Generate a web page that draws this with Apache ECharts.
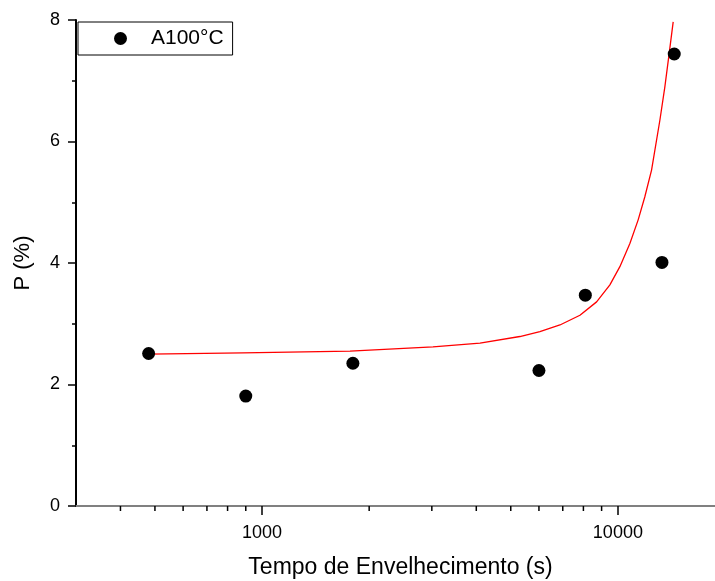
<!DOCTYPE html>
<html>
<head>
<meta charset="utf-8">
<script src="https://cdn.jsdelivr.net/npm/echarts@6/dist/echarts.min.js"></script>
<style>
html,body{margin:0;padding:0;background:#fff;}
#chart{width:715px;height:581px;}
</style>
</head>
<body>
<div id="chart"></div>
<script>
// Measured points
const timeS = [480, 900, 1800, 6000, 8100, 13300, 14400];
const pPercent = [2.51, 1.81, 2.35, 2.23, 3.47, 4.01, 7.44];
// Fitted curve
const fitX = [480, 884, 1767, 3022, 4097, 5303, 6037, 6873, 7823, 8713, 9496, 10130, 10807, 11402, 11906, 12434, 13122, 13552, 13937, 14303];
const fitY = [2.50, 2.52, 2.55, 2.62, 2.68, 2.79, 2.87, 2.98, 3.14, 3.36, 3.64, 3.94, 4.32, 4.71, 5.09, 5.53, 6.35, 6.90, 7.45, 7.97];
// Axis ticks
const xMajorTicks = [1000, 10000];
const xMinorTicks = [400, 500, 600, 700, 800, 900, 2000, 3000, 4000, 5000, 6000, 7000, 8000, 9000, 20000];
const seriesName = 'A100°C';
const xTitle = 'Tempo de Envelhecimento (s)';
const yTitle = 'P (%)';

const FONT = "'Liberation Sans', Arial, sans-serif";
const chart = echarts.init(document.getElementById('chart'), null, {renderer: 'canvas'});

chart.setOption({
  animation: false,
  backgroundColor: '#ffffff',
  grid: {left: 76, top: 20, right: -10, bottom: 75, containLabel: false, outerBoundsMode: 'none'},
  legend: {
    left: 78, top: 22,
    data: [{name: seriesName, icon: 'circle', itemStyle: {color: '#000', opacity: 1}}],
    itemWidth: 13, itemHeight: 13,
    padding: [6, 9, 6, 36],
    borderColor: '#000', borderWidth: 1,
    backgroundColor: '#fff',
    textStyle: {fontFamily: FONT, fontSize: 21, color: '#000', padding: [0, 0, 0, 19]}
  },
  xAxis: [{
    type: 'log', logBase: 10, min: 300, max: 20000,
    name: xTitle, nameLocation: 'middle', nameGap: 50, nameMoveOverlap: false,
    nameTextStyle: {fontFamily: FONT, fontSize: 23, color: '#000'},
    axisLine: {show: true, onZero: false, lineStyle: {color: '#000', width: 2}},
    axisTick: {show: true, inside: false, length: 9, customValues: xMajorTicks, lineStyle: {color: '#000', width: 1.5}},
    axisLabel: {show: true, margin: 18, customValues: xMajorTicks, fontFamily: FONT, fontSize: 18, color: '#000',
      formatter: v => String(Math.round(v))},
    splitLine: {show: false}, minorTick: {show: false}
  }, {
    type: 'log', logBase: 10, min: 300, max: 20000, position: 'top',
    axisLine: {show: true, lineStyle: {color: '#808080', width: 2}},
    axisTick: {show: false}, axisLabel: {show: false}, splitLine: {show: false}
  }],
  yAxis: [{
    type: 'value', min: 0, max: 8, interval: 2,
    name: yTitle, nameLocation: 'middle', nameGap: 42, nameMoveOverlap: false,
    nameTextStyle: {fontFamily: FONT, fontSize: 22, color: '#000'},
    axisLine: {show: true, onZero: false, lineStyle: {color: '#000', width: 2}},
    axisTick: {show: true, inside: false, length: 8, lineStyle: {color: '#000', width: 1.5}},
    minorTick: {show: true, splitNumber: 2, length: 4, lineStyle: {color: '#000', width: 1.5}},
    axisLabel: {margin: 16, fontFamily: FONT, fontSize: 18, color: '#000'},
    splitLine: {show: false}
  }],
  series: [{
    type: 'line', name: 'fit', xAxisIndex: 0, yAxisIndex: 0,
    data: fitX.map((x, i) => [x, fitY[i]]),
    showSymbol: false, symbol: 'none', smooth: false,
    lineStyle: {color: '#ff0000', width: 1.3, join: 'round'},
    silent: true, z: 3
  }, {
    type: 'scatter', name: seriesName, xAxisIndex: 0, yAxisIndex: 0,
    data: timeS.map((x, i) => [x, pPercent[i]]),
    symbol: 'circle', symbolSize: 13,
    itemStyle: {color: '#000', opacity: 1}, z: 4
  }, {
    type: 'custom', name: 'minorTicks', xAxisIndex: 0, yAxisIndex: 0,
    data: xMinorTicks.map(v => [v, 0]),
    clip: false, silent: true, z: 5,
    renderItem: function (params, api) {
      const p = api.coord([api.value(0), 0]);
      return {type: 'line', shape: {x1: p[0], y1: p[1], x2: p[0], y2: p[1] + 5},
        style: {stroke: '#000', lineWidth: 1.5}};
    }
  }]
});
</script>
</body>
</html>
